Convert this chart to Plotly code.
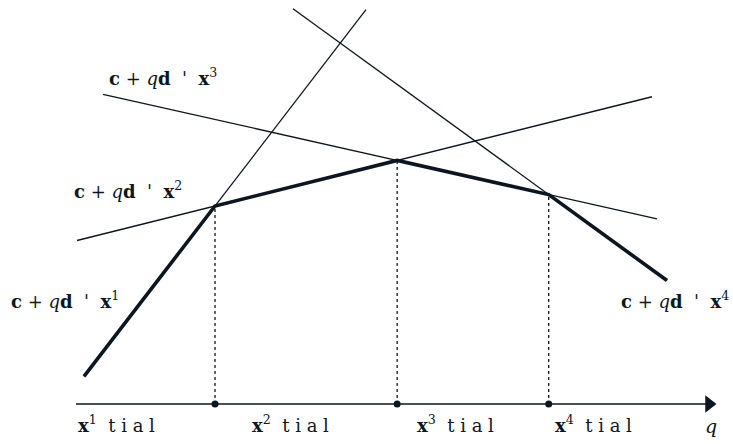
import numpy as np
import plotly.graph_objects as go

# Lines: value(q) = c + q * d'x^k
line_names = ["1", "2", "3", "4"]
intercepts = [17.3, 163.25, 315.8, 553.1]
slopes = [1.3, 0.25, -0.225, -0.727]
q_start = [8, 1, 27, 217]
q_end = [290, 576, 581, 591]
q_axis_end = 641
q_env_start = 8
q_env_end = 591

line_label_pos = [(-11, 104), (52, 214), (87, 327), (599, 104)]
region_label_x = [40, 214, 379, 517]
region_label_text = ["t i a l"] * 4

COL = "#0b1620"
FONT = "DejaVu Serif"

fig = go.Figure()

# thin lines
for a, b, q0, q1 in zip(intercepts, slopes, q_start, q_end):
    qs = np.array([q0, q1])
    fig.add_trace(go.Scatter(x=qs, y=a + b * qs, mode="lines",
                             line=dict(color=COL, width=1.3), showlegend=False, hoverinfo="skip"))

# breakpoints of lower envelope (consecutive line intersections)
bq = []
for i in range(3):
    q = (intercepts[i + 1] - intercepts[i]) / (slopes[i] - slopes[i + 1])
    bq.append(q)
bv = [intercepts[i] + slopes[i] * q for i, q in enumerate(bq)]

env_q = [q_env_start] + bq + [q_env_end]
env_v = [intercepts[0] + slopes[0] * q_env_start] + bv + [intercepts[3] + slopes[3] * q_env_end]
fig.add_trace(go.Scatter(x=env_q, y=env_v, mode="lines",
                         line=dict(color=COL, width=3.6), showlegend=False, hoverinfo="skip"))

# dotted verticals
for q, v in zip(bq, bv):
    fig.add_trace(go.Scatter(x=[q, q], y=[0, v], mode="lines",
                             line=dict(color=COL, width=1.3, dash="dot"), showlegend=False, hoverinfo="skip"))

# q axis
fig.add_trace(go.Scatter(x=[0, q_axis_end - 10], y=[0, 0], mode="lines",
                         line=dict(color=COL, width=1.6), showlegend=False, hoverinfo="skip"))
fig.add_trace(go.Scatter(x=[q_axis_end - 8], y=[0], mode="markers",
                         marker=dict(symbol="triangle-right", size=15, color=COL),
                         showlegend=False, hoverinfo="skip"))
fig.add_trace(go.Scatter(x=bq, y=[0] * 3, mode="markers",
                         marker=dict(symbol="circle", size=7, color=COL),
                         showlegend=False, hoverinfo="skip"))

ann = []
for k, (x, y) in zip(line_names, line_label_pos):
    ann.append(dict(x=x, y=y, xref="x", yref="y", showarrow=False,
                    text=f"<b>c</b> + <i>q</i><b>d</b>  '  <b>x</b><sup>{k}</sup>",
                    font=dict(family=FONT, size=18, color=COL)))
for k, x, t in zip(line_names, region_label_x, region_label_text):
    ann.append(dict(x=x, y=-20, xref="x", yref="y", showarrow=False,
                    text=f"<b>x</b><sup>{k}</sup>  {t}",
                    font=dict(family=FONT, size=18, color=COL)))
ann.append(dict(x=635, y=-22, xref="x", yref="y", showarrow=False,
                text="<i>q</i>", font=dict(family=FONT, size=19, color=COL)))

fig.update_layout(
    width=733, height=444,
    margin=dict(l=0, r=0, t=0, b=0),
    paper_bgcolor="white", plot_bgcolor="white",
    xaxis=dict(range=[-76, 657], visible=False),
    yaxis=dict(range=[-40, 404], visible=False),
    annotations=ann,
)
fig.write_html("out.html", config={"displayModeBar": False},
               post_script="document.body.style.margin='0';")
